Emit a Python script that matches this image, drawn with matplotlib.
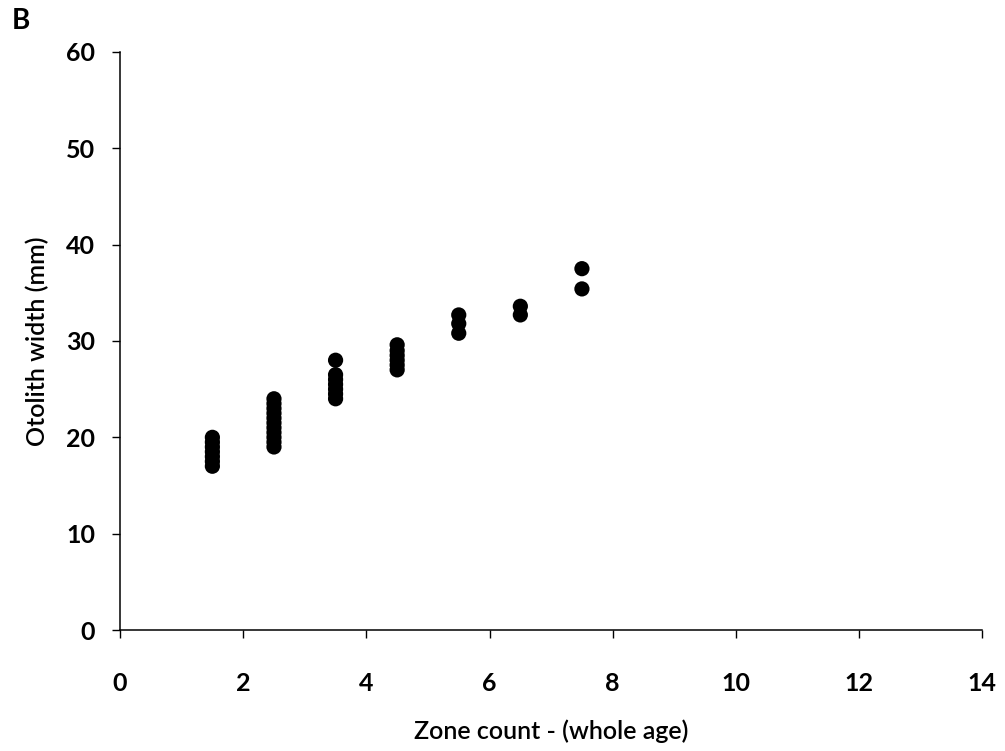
import matplotlib
matplotlib.use("Agg")
import matplotlib.pyplot as plt


# zone count groups (plotted at mid-year) and otolith widths
age_15 = [17.0, 17.5, 18.0, 18.5, 19.0, 19.5, 20.0]
age_25 = [19.0, 19.5, 20.0, 20.5, 21.0, 21.5, 22.0, 22.5, 23.0, 23.5, 24.0]
age_35 = [24.0, 24.5, 25.0, 25.5, 26.0, 26.5, 28.0]
age_45 = [27.0, 27.5, 28.0, 28.5, 29.0, 29.6]
age_55 = [30.8, 31.8, 32.7]
age_65 = [32.7, 33.6]
age_75 = [35.4, 37.5]

groups = [
    (1.5, age_15),
    (2.5, age_25),
    (3.5, age_35),
    (4.5, age_45),
    (5.5, age_55),
    (6.5, age_65),
    (7.5, age_75),
]

x_ticks = [0, 2, 4, 6, 8, 10, 12, 14]
y_ticks = [0, 10, 20, 30, 40, 50, 60]

FONT = ["Lato", "DejaVu Sans"]


def main():
    fig = plt.figure(figsize=(10.05, 7.51), dpi=100)
    ax = fig.add_axes([0.1194, 0.161, 0.858, 0.770])

    xs = []
    ys = []
    for age, widths in groups:
        xs += [age] * len(widths)
        ys += widths
    ax.scatter(xs, ys, s=120, c="black", edgecolors="none", zorder=5)

    ax.set_xlim(0, 14)
    ax.set_ylim(0, 60)
    ax.set_xticks(x_ticks)
    ax.set_yticks(y_ticks)
    ax.set_xticklabels([str(t) for t in x_ticks], family=FONT, fontsize=18, fontweight="bold")
    ax.set_yticklabels([str(t) for t in y_ticks], family=FONT, fontsize=18, fontweight="bold")

    ax.spines["top"].set_visible(False)
    ax.spines["right"].set_visible(False)
    for side in ("left", "bottom"):
        ax.spines[side].set_linewidth(1.1)
    ax.tick_params(axis="x", direction="out", length=6, width=1.0, pad=24)
    ax.tick_params(axis="y", direction="out", length=6, width=1.0, pad=12)

    ax.set_xlabel("Zone count - (whole age)", family=FONT, fontsize=18,
                  fontweight="semibold", labelpad=18)
    ax.set_ylabel("Otolith width (mm)", family=FONT, fontsize=18,
                  fontweight="semibold", labelpad=12)

    fig.text(0.012, 0.972, "B", family=FONT, fontsize=20, fontweight="bold", va="center")

    fig.savefig("out.png", dpi=100, facecolor="white")
    plt.close(fig)


if __name__ == "__main__":
    main()
